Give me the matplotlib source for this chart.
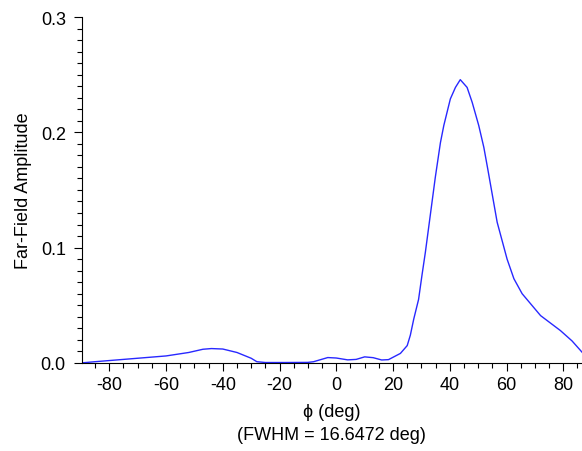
import numpy as np
import matplotlib.pyplot as plt
from matplotlib.ticker import MultipleLocator

plt.rcParams['font.family'] = ['Liberation Sans', 'DejaVu Sans']
plt.rcParams['axes.unicode_minus'] = False

# far-field angle (deg) and amplitude
phi = [-89.7, -85, -80, -70, -60, -52, -47, -44, -40, -35, -30, -28, -25, -18, -10, -8,
       -3, 0, 4, 7, 10, 13, 16, 18.4, 22.6, 25, 26.1, 27.3, 29.0, 30.2, 31.4, 34.9,
       36.7, 37.9, 40.2, 42.0, 43.7, 46.1, 47.9, 50.2, 52.0, 53.4, 56.7, 60.2, 62.6,
       65.5, 72, 79, 83.1, 86.6]
amp = [0.0, 0.001, 0.002, 0.004, 0.006, 0.009, 0.0118, 0.0124, 0.0120, 0.009, 0.004,
       0.001, 0.0003, 0.0003, 0.0004, 0.001, 0.0046, 0.0042, 0.0026, 0.003, 0.0052,
       0.0045, 0.0025, 0.0028, 0.0082, 0.015, 0.024, 0.038, 0.055, 0.076, 0.096, 0.161,
       0.191, 0.206, 0.229, 0.239, 0.2457, 0.239, 0.226, 0.206, 0.187, 0.168, 0.122,
       0.090, 0.073, 0.060, 0.041, 0.028, 0.019, 0.0093]

fig = plt.figure(figsize=(5.82, 4.52), dpi=100)
ax = fig.add_axes([0.1405, 0.195, 0.8595, 0.765])

ax.plot(phi, amp, color='#2828ff', lw=1.0)

ax.set_xlim(-89.7, 86.6)
ax.set_ylim(0, 0.3)
ax.xaxis.set_major_locator(MultipleLocator(20))
ax.xaxis.set_minor_locator(MultipleLocator(5))
ax.yaxis.set_major_locator(MultipleLocator(0.1))
ax.yaxis.set_minor_locator(MultipleLocator(0.01))
ax.yaxis.set_major_formatter(plt.FormatStrFormatter('%.1f'))

ax.spines['top'].set_visible(False)
ax.spines['right'].set_visible(False)
ax.tick_params(which='major', length=6, width=0.8, labelsize=13)
ax.tick_params(which='minor', length=3.6, width=0.8)
ax.tick_params(axis='y', which='major', pad=5.5)
ax.tick_params(axis='x', which='major', pad=3.5)

ax.set_ylabel('Far-Field Amplitude', fontsize=13, labelpad=6)
ax.set_xlabel('ϕ (deg)\n(FWHM = 16.6472 deg)', fontsize=13, labelpad=7, linespacing=1.45)

fig.savefig('out.png', dpi=100)
